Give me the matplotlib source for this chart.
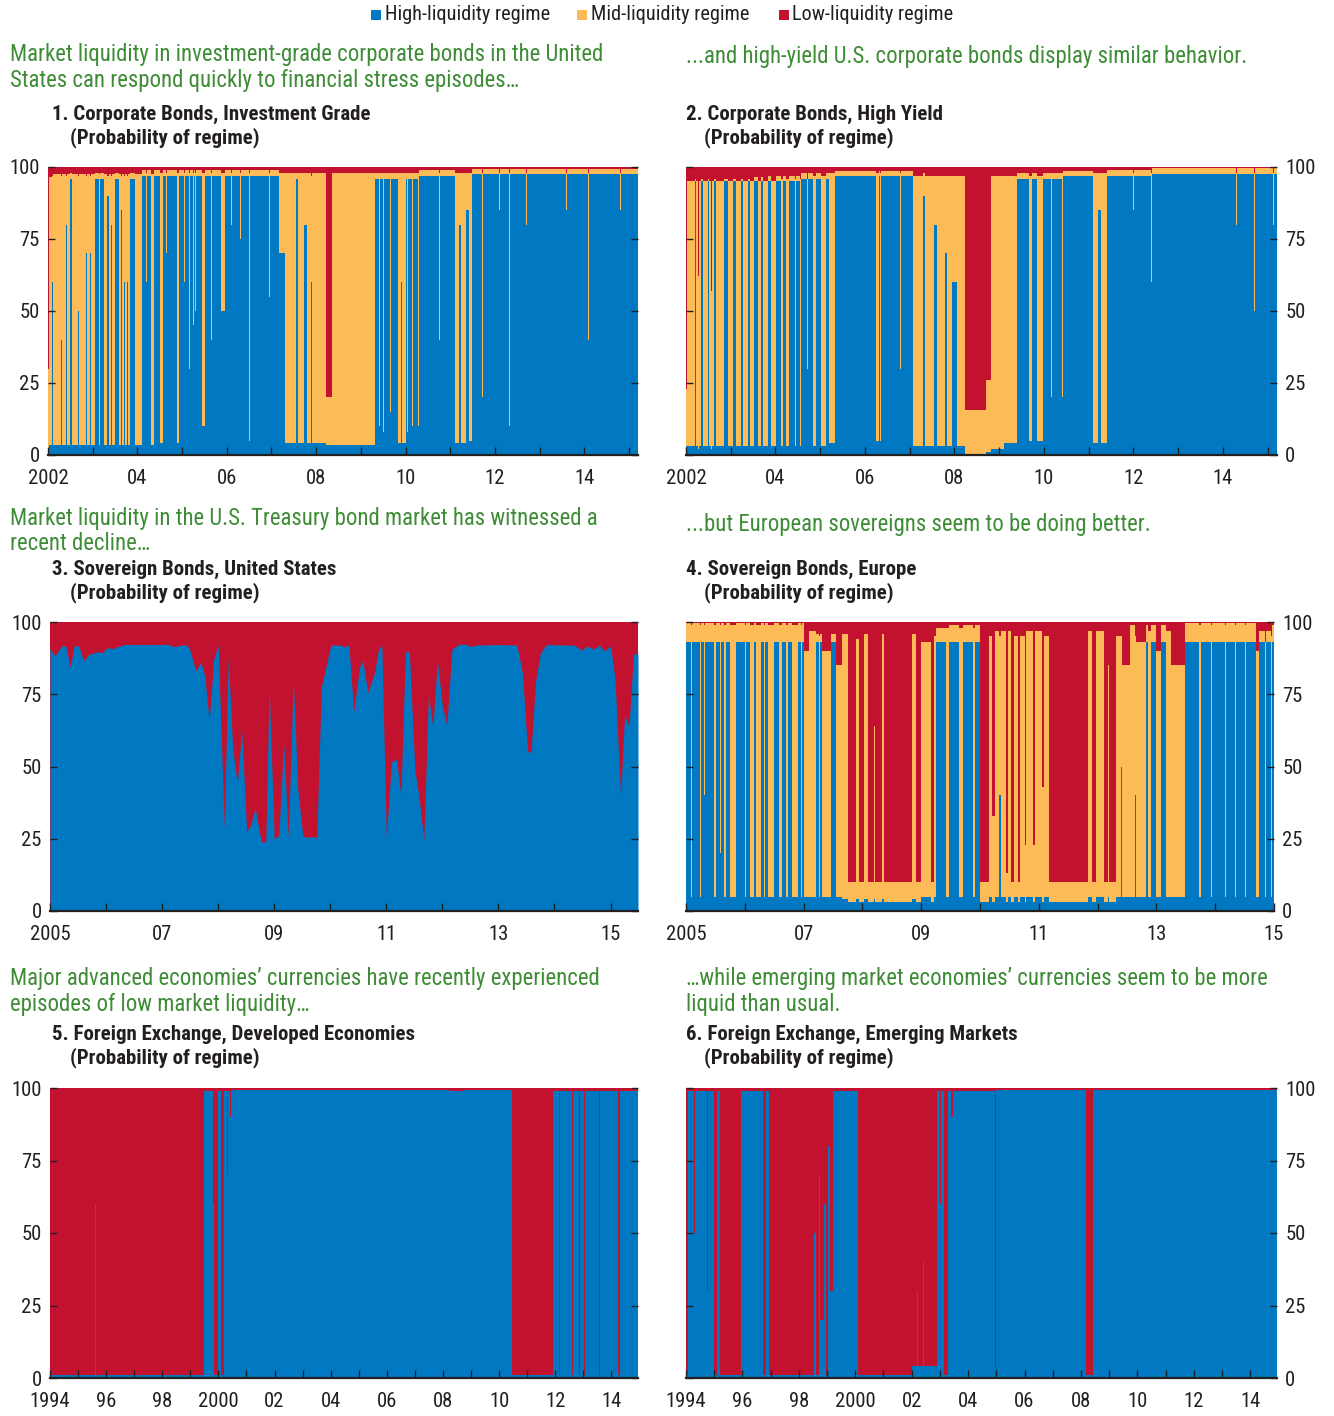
import numpy as np
import matplotlib
matplotlib.use("Agg")
import matplotlib.pyplot as plt
from matplotlib.patches import Rectangle

BLUE = "#0079c2"
ORANGE = "#fdbb57"
RED = "#c3122f"
GREEN = "#3e8c36"
INK = "#231f20"

# a narrow face if there is one, else Arial-like Liberation Sans
plt.rcParams["font.family"] = ["Roboto Condensed", "Liberation Sans Narrow", "Liberation Sans", "DejaVu Sans"]

regimes = ["High-liquidity regime", "Mid-liquidity regime", "Low-liquidity regime"]

# regime probabilities, (start of spell, high %, mid %); low is the rest to 100
ig_rows = [
    (2002.00, 2, 28), (2002.03, 3.5, 93), (2002.10, 60, 37), (2002.12, 3.5, 94),
    (2002.30, 40, 57), (2002.32, 3.5, 94), (2002.40, 80, 17), (2002.42, 3.5, 94),
    (2002.50, 96, 2), (2002.54, 3.5, 94),
    (2002.68, 50, 47), (2002.70, 3.5, 94), (2002.85, 70, 27), (2002.87, 3.5, 94),
    (2002.95, 70, 27), (2002.97, 3.5, 94),
    (2003.06, 96, 2), (2003.13, 3.5, 94), (2003.17, 96, 2), (2003.25, 3.5, 94),
    (2003.32, 90, 7), (2003.36, 3.5, 94), (2003.40, 80, 17), (2003.44, 3.5, 94),
    (2003.50, 96, 2), (2003.58, 3.5, 94), (2003.64, 85, 12), (2003.66, 3.5, 94),
    (2003.70, 60, 37), (2003.72, 3.5, 94), (2003.76, 60, 37), (2003.78, 3.5, 94),
    (2003.84, 96, 2), (2003.94, 3.5, 94), (2004.10, 97, 2), (2004.20, 60, 38),
    (2004.21, 97, 2), (2004.31, 3.5, 94),
    (2004.37, 97, 2), (2004.45, 50, 48), (2004.46, 97, 2), (2004.51, 4, 94),
    (2004.57, 97, 2), (2004.65, 70, 28), (2004.66, 97, 2), (2004.72, 40, 58),
    (2004.74, 97, 2), (2004.89, 4, 94), (2004.94, 97, 2), (2005.05, 60, 38),
    (2005.06, 97, 2), (2005.15, 30, 68),
    (2005.17, 97, 2), (2005.25, 45, 53), (2005.26, 97, 2), (2005.30, 50, 48),
    (2005.31, 97, 2), (2005.45, 10, 88), (2005.52, 97, 2), (2005.65, 40, 58),
    (2005.66, 97, 2), (2005.75, 70, 28), (2005.76, 97, 2), (2005.86, 50, 48),
    (2005.97, 97, 2), (2006.10, 80, 18), (2006.11, 97, 2), (2006.30, 75, 23),
    (2006.31, 97, 2), (2006.49, 5, 93), (2006.52, 97, 2), (2006.65, 60, 38),
    (2006.66, 97, 2), (2006.80, 40, 58),
    (2006.82, 97, 2), (2006.95, 55, 43), (2006.96, 97, 2), (2007.05, 50, 48),
    (2007.06, 97, 2), (2007.16, 70, 28), (2007.31, 4, 94), (2007.54, 96, 2),
    (2007.59, 4, 94), (2007.72, 80, 18), (2007.80, 4, 94), (2007.88, 60, 37),
    (2007.91, 4, 94), (2008.21, 3.5, 16.5), (2008.36, 3.5, 94.5), (2009.32, 96, 2),
    (2009.40, 10, 88), (2009.42, 96, 2), (2009.50, 8, 90), (2009.52, 96, 2),
    (2009.66, 15, 83), (2009.68, 96, 2), (2009.84, 4, 94), (2009.90, 60, 38),
    (2009.93, 4, 94), (2010.00, 96, 2), (2010.03, 8, 90), (2010.05, 96, 2),
    (2010.14, 10, 88), (2010.16, 96, 2), (2010.27, 10, 88), (2010.29, 97, 2),
    (2010.50, 20, 78), (2010.51, 97, 2), (2010.75, 40, 58), (2010.76, 97, 2),
    (2011.11, 4, 94), (2011.20, 80, 18), (2011.24, 4, 94), (2011.36, 85, 13),
    (2011.42, 5, 93), (2011.49, 97.5, 1.8), (2011.72, 20, 78), (2011.73, 97.5, 1.8),
    (2012.10, 85, 13), (2012.11, 97.5, 1.8),
    (2012.31, 10, 88), (2012.33, 97.5, 1.8), (2012.70, 80, 18), (2012.71, 97.5, 1.8),
    (2013.20, 85, 13), (2013.21, 97.5, 1.8), (2013.60, 85, 13), (2013.61, 97.5, 1.8),
    (2013.87, 12, 86), (2013.88, 97.5, 1.8),
    (2014.09, 40, 58), (2014.10, 97.5, 1.8), (2014.50, 80, 18), (2014.51, 97.5, 1.8),
    (2014.80, 85, 13), (2014.81, 97.5, 1.8),
]
ig_end = 2015.2

hy_rows = [
    (2002.00, 3, 20), (2002.02, 3, 92), (2002.08, 40, 50), (2002.10, 3, 92),
    (2002.19, 95, 1), (2002.22, 3, 92), (2002.26, 2, 60), (2002.28, 3, 92),
    (2002.34, 95, 1), (2002.37, 3, 92), (2002.49, 95, 1), (2002.52, 3, 92),
    (2002.56, 2, 55), (2002.58, 3, 92), (2002.63, 95, 1), (2002.67, 3, 92),
    (2002.86, 95, 1), (2002.93, 3, 92), (2003.04, 95, 1), (2003.12, 3, 92),
    (2003.23, 95, 1), (2003.27, 3, 92), (2003.38, 95, 1), (2003.42, 3, 92),
    (2003.53, 95, 1.5), (2003.60, 3, 92), (2003.68, 95, 1.5), (2003.72, 3, 92),
    (2003.83, 95, 2), (2003.90, 3, 92), (2004.01, 95, 2), (2004.13, 3, 93),
    (2004.16, 95, 2), (2004.24, 3, 93), (2004.31, 95, 2), (2004.43, 3, 93),
    (2004.46, 95, 2), (2004.54, 3, 93), (2004.57, 96, 2), (2004.70, 30, 66),
    (2004.72, 96, 2), (2004.84, 3, 94), (2004.91, 96, 2), (2005.02, 3, 94),
    (2005.13, 96, 2), (2005.20, 4, 94), (2005.32, 97, 1.5), (2005.50, 70, 28),
    (2005.51, 97, 1.5), (2005.75, 60, 38), (2005.76, 97, 1.5), (2006.00, 75, 23),
    (2006.01, 97, 1.5), (2006.25, 5, 93),
    (2006.31, 97, 1.5), (2006.33, 5, 93), (2006.35, 97, 1.5), (2006.78, 30, 68),
    (2006.80, 97, 1.5), (2007.07, 3, 94), (2007.30, 90, 8), (2007.34, 3, 94),
    (2007.55, 80, 17), (2007.62, 3, 94), (2007.78, 70, 27), (2007.83, 3, 94),
    (2007.95, 60, 37), (2008.05, 3, 94), (2008.24, 0.5, 15), (2008.70, 1, 25),
    (2008.81, 2, 95), (2009.10, 4, 93), (2009.40, 96, 2), (2009.67, 5, 92),
    (2009.74, 96, 2), (2009.85, 5, 92), (2009.99, 96, 2), (2010.15, 20, 78),
    (2010.17, 96, 2), (2010.40, 20, 78), (2010.42, 97, 1.5), (2010.55, 30, 68),
    (2010.57, 97, 1.5), (2011.10, 4, 94), (2011.20, 85, 13), (2011.28, 4, 94),
    (2011.40, 97, 2), (2011.70, 80, 18), (2011.71, 97, 2), (2012.00, 85, 13),
    (2012.01, 97, 2), (2012.40, 60, 38), (2012.41, 97.5, 2), (2012.90, 85, 13),
    (2012.91, 97.5, 2), (2013.40, 70, 28), (2013.41, 97.5, 2), (2013.80, 85, 13),
    (2013.81, 97.5, 2), (2014.30, 80, 18), (2014.31, 97.5, 2),
    (2014.70, 50, 48), (2014.71, 97.5, 2), (2015.12, 80, 18), (2015.14, 97.5, 2),
]
hy_end = 2015.21

# U.S. Treasuries: high-regime probability, the rest is low regime
ust_year = [2005.00, 2005.09, 2005.21, 2005.28, 2005.36, 2005.43, 2005.51, 2005.60,
            2005.70, 2005.85, 2005.93, 2006.02, 2006.12, 2006.31, 2006.99, 2007.10,
            2007.22, 2007.33, 2007.45, 2007.50, 2007.60, 2007.69, 2007.76, 2007.84,
            2007.92, 2008.00, 2008.11, 2008.18, 2008.26, 2008.34, 2008.42, 2008.51,
            2008.58, 2008.66, 2008.77, 2008.85, 2008.91, 2009.00, 2009.08, 2009.17,
            2009.25, 2009.34, 2009.42, 2009.51, 2009.57, 2009.76, 2009.84, 2009.94,
            2010.01, 2010.18, 2010.25, 2010.33, 2010.42, 2010.52, 2010.58, 2010.67,
            2010.79, 2010.86, 2010.92, 2011.00, 2011.09, 2011.18, 2011.26, 2011.34,
            2011.41, 2011.51, 2011.58, 2011.67, 2011.75, 2011.83, 2011.91, 2012.00,
            2012.08, 2012.17, 2012.30, 2012.42, 2012.51, 2012.59, 2012.99, 2013.33,
            2013.43, 2013.52, 2013.58, 2013.66, 2013.75, 2013.86, 2014.35, 2014.49,
            2014.58, 2014.70, 2014.80, 2014.89, 2015.00, 2015.08, 2015.18, 2015.25,
            2015.33, 2015.41, 2015.49]
ust_high = [90.8, 88.3, 91.7, 91.7, 84.3, 91.7, 91.7, 86.6,
            88.9, 89.7, 89.4, 91.1, 90.8, 92.2, 92.2, 92.3,
            91.4, 92.0, 92.0, 90.0, 83.1, 86.0, 81.4, 65.9,
            87.1, 92.0, 28.7, 87.7, 56.1, 44.0, 62.4, 27.4,
            29.7, 35.6, 23.9, 23.9, 77.9, 24.8, 26.2, 57.8,
            25.3, 80.2, 42.3, 26.0, 25.6, 25.6, 77.4, 86.0,
            92.0, 92.0, 91.4, 92.0, 69.0, 84.3, 86.6, 75.6,
            82.5, 90.6, 92.0, 25.1, 51.5, 52.6, 40.0, 89.4,
            90.0, 48.6, 40.0, 24.5, 74.7, 63.6, 86.6, 71.0,
            64.1, 90.6, 92.3, 92.3, 91.5, 92.0, 92.2, 92.0,
            82.0, 55.5, 54.7, 79.1, 89.4, 92.2, 92.0, 90.3,
            91.7, 90.6, 92.0, 90.0, 91.7, 80.2, 39.4, 67.8,
            64.1, 88.9, 88.9]

eu_rows = [
    (2005.00, 93, 6.5), (2005.09, 5, 94), (2005.11, 93, 6.5), (2005.23, 5, 94),
    (2005.25, 93, 6.5), (2005.31, 40, 59), (2005.32, 93, 6.5), (2005.40, 30, 69),
    (2005.41, 93, 6.5), (2005.48, 5, 94), (2005.51, 93, 6.5), (2005.58, 20, 79),
    (2005.59, 93, 6.5), (2005.65, 5, 94),
    (2005.68, 93, 6.5), (2005.74, 5, 94), (2005.85, 93, 6.5), (2005.91, 30, 69),
    (2005.92, 93, 6.5), (2006.00, 5, 94), (2006.02, 93, 6.5), (2006.08, 5, 94),
    (2006.16, 93, 6.5), (2006.19, 5, 94), (2006.28, 93, 6.5), (2006.33, 5, 94),
    (2006.35, 93, 6.5), (2006.39, 5, 94),
    (2006.50, 93, 6.5), (2006.59, 5, 94), (2006.64, 93, 6.5), (2006.70, 5, 94),
    (2006.73, 93, 6.5), (2006.81, 5, 94), (2006.90, 93, 6.5), (2006.95, 5, 94),
    (2006.97, 93, 6.5), (2007.01, 5, 85),
    (2007.10, 5, 92), (2007.21, 93, 3), (2007.26, 5, 90), (2007.28, 93, 3),
    (2007.32, 5, 85), (2007.47, 93, 3),
    (2007.55, 5, 80), (2007.65, 4, 92), (2007.75, 3, 7), (2007.89, 4, 90),
    (2007.95, 3, 7), (2008.03, 4, 92), (2008.09, 3, 7), (2008.20, 4, 60),
    (2008.22, 3, 7), (2008.34, 4, 92), (2008.37, 3, 7), (2008.60, 4, 50),
    (2008.61, 3, 7), (2008.85, 4, 92),
    (2008.91, 3, 7), (2009.00, 5, 88), (2009.17, 3, 7), (2009.22, 5, 90),
    (2009.25, 93, 5), (2009.42, 5, 93), (2009.48, 93, 6), (2009.65, 5, 93),
    (2009.71, 93, 6), (2009.88, 5, 93), (2009.92, 93, 6), (2010.00, 3, 7),
    (2010.15, 5, 90), (2010.21, 3, 30), (2010.25, 5, 92), (2010.33, 40, 55),
    (2010.36, 5, 92), (2010.44, 3, 10), (2010.47, 5, 92), (2010.53, 3, 7),
    (2010.58, 5, 90), (2010.64, 3, 7), (2010.68, 5, 90), (2010.76, 3, 20),
    (2010.79, 5, 92), (2010.90, 3, 20),
    (2010.93, 5, 92), (2011.05, 3, 40), (2011.08, 5, 90), (2011.18, 3, 7),
    (2011.46, 4, 60), (2011.47, 3, 7), (2011.83, 5, 92), (2011.91, 3, 7),
    (2011.97, 5, 92), (2012.11, 3, 7), (2012.17, 5, 80), (2012.19, 3, 7),
    (2012.31, 5, 90), (2012.40, 50, 45), (2012.42, 5, 80), (2012.55, 5, 94),
    (2012.63, 40, 55), (2012.65, 5, 88), (2012.82, 93, 6), (2012.86, 5, 92),
    (2012.91, 93, 6), (2012.99, 5, 85), (2013.08, 93, 6), (2013.17, 5, 92),
    (2013.25, 5, 80), (2013.48, 93, 6.5), (2013.73, 5, 94), (2013.75, 93, 6.5),
    (2013.93, 5, 94), (2013.95, 93, 6.5), (2014.16, 5, 94), (2014.18, 93, 6.5),
    (2014.33, 5, 94), (2014.35, 93, 6.5), (2014.50, 5, 94), (2014.52, 93, 6.5),
    (2014.70, 5, 85), (2014.75, 93, 4), (2014.84, 5, 88), (2014.86, 93, 4),
    (2014.95, 5, 90), (2014.97, 93, 6),
]
eu_end = 2015.0

fxd_rows = [
    (1994.00, 1, 0), (1995.24, 99, 0), (1995.26, 1, 0), (1995.62, 60, 0),
    (1995.63, 1, 0), (1996.30, 30, 0), (1996.31, 1, 0), (1999.30, 45, 0),
    (1999.32, 1, 0), (1999.48, 99, 0), (1999.79, 60, 0), (1999.86, 1, 0),
    (1999.97, 99, 0), (2000.08, 1, 0), (2000.21, 99, 0), (2000.30, 70, 0),
    (2000.33, 99, 0), (2000.40, 90, 0), (2000.45, 99.2, 0), (2008.20, 98.8, 0),
    (2008.70, 99.2, 0), (2010.47, 1, 0), (2010.70, 40, 0), (2010.72, 1, 0),
    (2011.91, 99, 0), (2012.15, 1, 0), (2012.18, 99, 0), (2012.30, 1, 0),
    (2012.33, 99, 0), (2012.60, 1, 0), (2012.63, 99, 0), (2012.85, 1, 0),
    (2012.90, 99, 0), (2013.03, 1, 0), (2013.05, 99, 0), (2013.55, 1, 0),
    (2013.60, 99, 0), (2014.25, 1, 0), (2014.30, 99, 0), (2014.80, 50, 0),
    (2014.82, 99, 0),
]
fxd_end = 2014.95

fxe_rows = [
    (1994.00, 1, 0), (1994.08, 99, 0), (1994.30, 50, 0), (1994.32, 99, 0),
    (1994.75, 30, 0), (1994.77, 99, 0), (1995.00, 1, 0), (1995.10, 99, 0),
    (1995.20, 1, 0), (1995.96, 99, 0), (1996.72, 1, 0), (1996.82, 99, 0),
    (1996.94, 1, 0), (1998.53, 50, 0), (1998.60, 1, 0), (1998.70, 70, 0),
    (1998.76, 20, 0), (1998.90, 60, 0), (1998.95, 1, 0), (1999.05, 80, 0),
    (1999.12, 30, 0), (1999.20, 99, 0), (2000.11, 1, 0), (2002.00, 4, 0),
    (2002.20, 30, 0), (2002.22, 4, 0), (2002.40, 40, 0), (2002.42, 4, 0),
    (2002.60, 20, 0), (2002.62, 4, 0), (2002.90, 99, 0), (2003.00, 60, 0),
    (2003.05, 99, 0), (2003.13, 1, 0), (2003.28, 99, 0), (2003.40, 90, 0),
    (2003.45, 99, 0), (2003.60, 80, 0), (2003.62, 99, 0), (2004.94, 1, 0),
    (2004.98, 99.2, 0), (2008.19, 1, 0), (2008.41, 99.2, 0),
]
fxe_end = 2014.95

W, H = 1334, 1416
fig = plt.figure(figsize=(W / 100, H / 100), dpi=100)
renderer = fig.canvas.get_renderer()


def box(l, t, r, b):
    return [l / W, 1 - b / H, (r - l) / W, (b - t) / H]


def at(x, y):
    return x / W, 1 - y / H


def size_for(text, width_px, **kw):
    # font size that makes this string as wide as in the original
    t = fig.text(0, 0, text, fontsize=10, **kw)
    w = t.get_window_extent(renderer=renderer).width
    t.remove()
    return 10 * width_px / w


tick_fs = size_for("2002", 40)
green_fs = size_for("Market liquidity in investment-grade corporate bonds in the United", 588)
title_fs = size_for("1. Corporate Bonds, Investment Grade", 319, fontweight="bold")
legend_fs = size_for("High-liquidity regime", 164)


def regime_area(ax, rows, end):
    yr, hi, mid = map(list, zip(*rows))
    x = np.array(yr + [end])
    hi = np.array(hi + [hi[-1]], float)
    mid = np.array(mid + [mid[-1]], float)
    low = 100 - hi - mid
    # stacked from zero so there are no white seams between the layers
    ax.fill_between(x, 0, hi + mid + low, step="post", color=RED, lw=0)
    ax.fill_between(x, 0, hi + mid, step="post", color=ORANGE, lw=0)
    ax.fill_between(x, 0, hi, step="post", color=BLUE, lw=0)


def style(ax, x0, x1, first, last, side):
    years = list(range(first, last + 1))
    labels = []
    for i, y in enumerate(years):
        if i % 2:
            labels.append("")
        elif i == 0 or y == 2000:
            labels.append(str(y))
        else:
            labels.append("%02d" % (y % 100))
    ax.set_xlim(x0, x1)
    ax.set_ylim(0, 100)
    ax.set_xticks(years)
    ax.set_xticklabels(labels)
    ax.set_yticks([0, 25, 50, 75, 100])
    for s in ("top", "left", "right"):
        ax.spines[s].set_visible(False)
    ax.spines["bottom"].set_linewidth(1.6)
    ax.spines["bottom"].set_color(INK)
    ax.tick_params(axis="x", direction="in", length=6, width=1, color=INK,
                   labelsize=tick_fs, labelcolor=INK, pad=10)
    ax.tick_params(axis="y", direction="in", length=5, width=1, color=INK,
                   labelsize=tick_fs, labelcolor=INK, left=True, right=True,
                   labelleft=(side == "left"), labelright=(side == "right"), pad=6)


ax1 = fig.add_axes(box(48, 167, 638, 455))
regime_area(ax1, ig_rows, ig_end)
style(ax1, 2002, ig_end, 2002, 2015, "left")

ax2 = fig.add_axes(box(686, 167, 1277, 455))
regime_area(ax2, hy_rows, hy_end)
style(ax2, 2002, hy_end, 2002, 2015, "right")

ax3 = fig.add_axes(box(50, 622, 638, 911))
ax3.fill_between(ust_year, 0, 100, color=RED, lw=0)
ax3.fill_between(ust_year, 0, ust_high, color=BLUE, lw=0)
style(ax3, 2005, ust_year[-1], 2005, 2015, "left")

ax4 = fig.add_axes(box(686, 622, 1274, 911))
regime_area(ax4, eu_rows, eu_end)
style(ax4, 2005, eu_end, 2005, 2015, "right")

ax5 = fig.add_axes(box(50, 1088, 638, 1378))
regime_area(ax5, fxd_rows, fxd_end)
style(ax5, 1994, fxd_end, 1994, 2014, "left")

ax6 = fig.add_axes(box(686, 1088, 1277, 1378))
regime_area(ax6, fxe_rows, fxe_end)
style(ax6, 1994, fxe_end, 1994, 2014, "right")

# legend across the top
for (sx, tx), col, name in zip([(371, 385), (577, 591), (779, 792)],
                               [BLUE, ORANGE, RED], regimes):
    fig.patches.append(Rectangle(at(sx, 20), 10 / W, 10 / H, transform=fig.transFigure,
                                 facecolor=col, edgecolor="none"))
    fig.text(*at(tx, 15), name, fontsize=legend_fs, color=INK, va="center", ha="left")

green = [
    (10, 54, "Market liquidity in investment-grade corporate bonds in the United"),
    (10, 80, "States can respond quickly to financial stress episodes\u2026"),
    (686, 56, "...and high-yield U.S. corporate bonds display similar behavior."),
    (10, 519, "Market liquidity in the U.S. Treasury bond market has witnessed a"),
    (10, 544, "recent decline\u2026"),
    (686, 524, "...but European sovereigns seem to be doing better."),
    (10, 979, "Major advanced economies\u2019 currencies have recently experienced"),
    (10, 1005, "episodes of low market liquidity\u2026"),
    (686, 979, "\u2026while emerging market economies\u2019 currencies seem to be more"),
    (686, 1005, "liquid than usual."),
]
for x, y, s in green:
    fig.text(*at(x, y), s, fontsize=green_fs, color=GREEN, va="center", ha="left")

titles = [
    (52, 114, "1. Corporate Bonds, Investment Grade"),
    (686, 114, "2. Corporate Bonds, High Yield"),
    (52, 569, "3. Sovereign Bonds, United States"),
    (686, 569, "4. Sovereign Bonds, Europe"),
    (52, 1034, "5. Foreign Exchange, Developed Economies"),
    (686, 1034, "6. Foreign Exchange, Emerging Markets"),
]
for x, y, s in titles:
    fig.text(*at(x, y), s, fontsize=title_fs, fontweight="bold", color=INK, va="center", ha="left")
    fig.text(*at(x + 18, y + 24), "(Probability of regime)", fontsize=title_fs,
             fontweight="bold", color=INK, va="center", ha="left")

fig.savefig("out.png", dpi=100)
